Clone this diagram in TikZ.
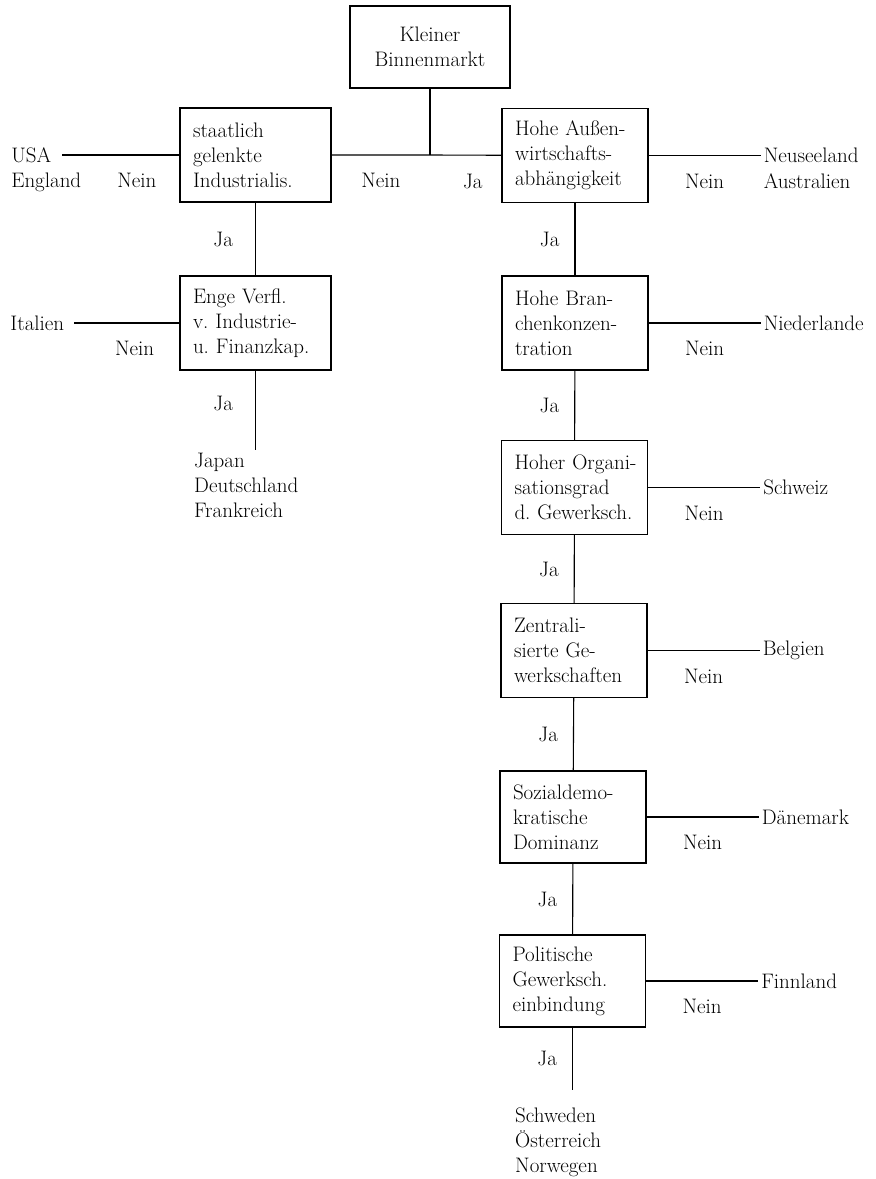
\documentclass[tikz,border=0pt]{standalone}
\usepackage{fontspec}
\usetikzlibrary{positioning}

\begin{document}
\begin{tikzpicture}[
    x=1pt, y=-1pt,
    every node/.style={font=\fontsize{21}{25}\selectfont\frenchspacing, inner sep=3pt},
    box/.style={draw, line width=1.3pt, align=left, inner xsep=13pt, text width=120pt, minimum height=94pt,
                execute at begin node={\hyphenpenalty=10000 \exhyphenpenalty=10000 \hbadness=10000 \hfuzz=20pt}},
    wide/.style={box, text width=125pt},
    land/.style={inner sep=3pt},
    link/.style={line width=1.1pt},
    hlab/.style={below=15pt},
    vlab/.style={left=12pt}
]
\useasboundingbox (0,0) rectangle (876,1179);

\node[box, align=center, text width=134pt, minimum height=82pt] (klein) at (430,47) {Kleiner\\Binnenmarkt};

\node[wide] (staat) at (255.5,155) {staatlich\\gelenkte\\Industrialis.};
\node[wide] (enge) at (255.5,323) {Enge~Verfl.\\v.~Industrie-\\u.~Finanzkap.};

\node[box] (aussen) at (575,155.5) {Hohe~Außen-\\wirtschafts-\\abhängigkeit};
\node[box] (branche) at (575,323) {Hohe~Bran-\\chenkonzen-\\tration};
\node[box] (organ) at (574.5,487.5) {Hoher~Organi-\\sationsgrad\\d.~Gewerksch.};
\node[box] (zentral) at (574,650.5) {Zentrali-\\sierte~Ge-\\werkschaften};
\node[box, minimum height=92pt] (sozial) at (573,817) {Sozialdemo-\\kratische\\Dominanz};
\node[box, minimum height=92pt] (polit) at (572.5,981) {Politische\\Gewerksch.\\einbindung};

\node[land, left=125pt of staat] (usa) {USA};
\node[land, anchor=base west] (engl) at ([yshift=-25.5pt]usa.base west) {England};
\node[land, left=112pt of enge] (ital) {Italien};
\node[land, align=left, anchor=north west] (jdf) at (191,450) {Japan\\Deutschland\\Frankreich};

\node[land, right=112pt of aussen] (neus) {Neuseeland};
\node[land, anchor=base west] (austr) at ([yshift=-25.5pt]neus.base west) {Australien};
\node[land, right=112pt of branche] (nieder) {Niederlande};
\node[land, right=112pt of organ] (schweiz) {Schweiz};
\node[land, right=112pt of zentral] (belg) {Belgien};
\node[land, right=112pt of sozial] (daen) {Dänemark};
\node[land, right=112pt of polit] (finn) {Finnland};
\node[land, align=left, anchor=north west] (swe) at (512,1105) {Schweden\\Österreich\\Norwegen};

\coordinate (split) at (klein.south |- staat.east);
\coordinate (leftend) at ([yshift=-79pt]enge.south);
\coordinate (rightend) at ([yshift=-62pt]polit.south);

\draw[link] (klein) -- (split);
\draw[link] (staat) -- node[hlab] {Nein} (split) -- node[hlab, pos=0.6] {Ja} (aussen);
\draw[link, shorten >=8pt] (staat) -- node[hlab, pos=0.34] {Nein} (usa);
\draw[link, shorten >=7pt] (enge) -- node[hlab, pos=0.4] {Nein} (ital);
\draw[link] (staat) -- node[vlab, left=19pt] {Ja} (enge);
\draw[link] (enge) -- node[vlab, left=19pt, pos=0.42] {Ja} (leftend);

\draw[link] (aussen) -- node[hlab] {Nein} (neus);
\draw[link] (branche) -- node[hlab] {Nein} (nieder);
\draw[link] (organ) -- node[hlab] {Nein} (schweiz);
\draw[link] (zentral) -- node[hlab] {Nein} (belg);
\draw[link] (sozial) -- node[hlab] {Nein} (daen);
\draw[link] (polit) -- node[hlab] {Nein} (finn);

\draw[link] (aussen) -- node[vlab] {Ja} (branche);
\draw[link] (branche) -- node[vlab] {Ja} (organ);
\draw[link] (organ) -- node[vlab] {Ja} (zentral);
\draw[link] (zentral) -- node[vlab] {Ja} (sozial);
\draw[link] (sozial) -- node[vlab] {Ja} (polit);
\draw[link] (polit) -- node[vlab] {Ja} (rightend);
\end{tikzpicture}
\end{document}
